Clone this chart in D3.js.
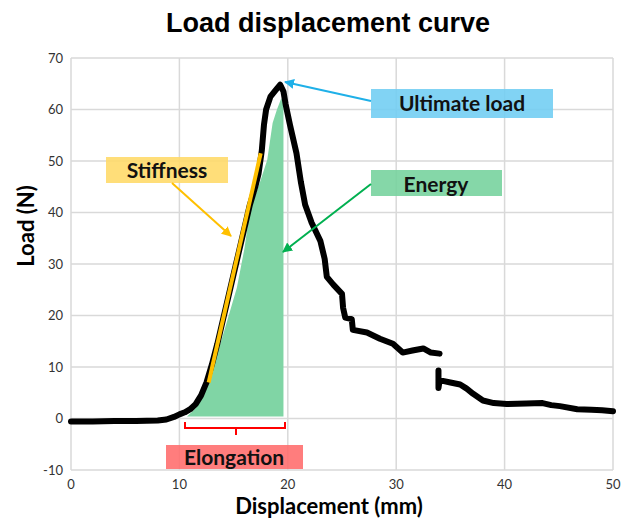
<!DOCTYPE html>
<html>
<head>
<meta charset="utf-8">
<script src="https://cdn.jsdelivr.net/npm/d3@7/dist/d3.min.js"></script>
<style>
  body { margin: 0; background: #fff; }
  svg text { font-family: Lato, "Open Sans", sans-serif; }
</style>
</head>
<body>
<div id="chart"></div>
<script>
// curve readings (displacement mm, load N); null marks the break near 34 mm
var dispX = [0, 2, 4, 6, 8, 8.8, 9.5, 10, 10.5, 11, 11.5, 12, 12.5, 13, 13.5, 14, 14.5, 15, 15.5, 16,
  16.5, 17, 17.3, 17.6, 17.8, 18, 18.4, 18.9, 19.3, 19.6, 19.8, 20.2, 20.8, 21.2, 21.6, 22.2, 23, 23.4,
  23.6, 24.2, 25, 25.1, 25.3, 25.9, 26, 27.3, 28.5, 29.7, 30.6, 31.5, 32.5, 33.2, 34, 34,
  33.9, 33.9, 34.0, 34.3, 35.0, 35.9, 36.5, 37.1, 38, 39, 40.2, 42, 43.5, 44.3, 45.1, 46.7, 48, 49, 50];
var loadN = [-0.6, -0.6, -0.5, -0.5, -0.4, -0.2, 0.3, 0.8, 1.2, 1.8, 2.8, 4.5, 7, 10.5, 14.5, 19, 23.5, 28, 32.5, 37,
  41.5, 45, 47.5, 52, 57, 60, 62.5, 63.8, 64.8, 63.5, 61, 57, 51.5, 46, 41.5, 38, 34.5, 31,
  27.5, 26, 24.2, 21.5, 19.6, 19.3, 17.2, 16.7, 15.5, 14.5, 12.8, 13.2, 13.6, 12.8, 12.6, null,
  9.3, 5.9, 7.3, 7.3, 7.0, 6.6, 5.8, 4.8, 3.5, 3.0, 2.8, 2.9, 3.0, 2.6, 2.4, 1.8, 1.7, 1.6, 1.4];

// shaded energy region
var energyX = [10.7, 11.5, 12.3, 13.1, 14.2, 15.3, 16.0, 16.5, 17.4, 18.1, 18.6, 19.0, 19.4, 19.6];
var energyTop = [0.4, 2, 5, 9.8, 17.5, 25.4, 33, 40.4, 45.7, 50.2, 57.4, 60, 62.2, 61];
var energyBase = 0.4;

// stiffness tangent
var stiffX = [12.7, 17.5];
var stiffY = [7.0, 51.5];

var xTicks = [0, 10, 20, 30, 40, 50];
var yTicks = [-10, 0, 10, 20, 30, 40, 50, 60, 70];
var labels = ["Ultimate load", "Energy", "Stiffness", "Elongation"];

var width = 622, height = 518;
var margin = {top: 58, right: 9, bottom: 48, left: 71};

var svg = d3.select("#chart").append("svg")
  .attr("width", width)
  .attr("height", height);

var x = d3.scaleLinear().domain([0, 50]).range([margin.left, width - margin.right]);
var y = d3.scaleLinear().domain([-10, 70]).range([height - margin.bottom, margin.top]);

// Gridlines
svg.append("g")
  .selectAll("line.gx")
  .data(xTicks).enter().append("line")
  .attr("x1", d => x(d)).attr("x2", d => x(d))
  .attr("y1", y(70)).attr("y2", y(-10))
  .attr("stroke", "#d9d9d9").attr("stroke-width", 1.5);
svg.append("g")
  .selectAll("line.gy")
  .data(yTicks).enter().append("line")
  .attr("x1", x(0)).attr("x2", x(50))
  .attr("y1", d => y(d)).attr("y2", d => y(d))
  .attr("stroke", "#d9d9d9").attr("stroke-width", 1.5);

// Tick labels
svg.append("g")
  .selectAll("text")
  .data(xTicks).enter().append("text")
  .attr("x", d => x(d)).attr("y", y(-10) + 19)
  .attr("text-anchor", "middle")
  .attr("font-size", 13).attr("fill", "#333")
  .text(d => d);
svg.append("g")
  .selectAll("text")
  .data(yTicks).enter().append("text")
  .attr("x", x(0) - 8).attr("y", d => y(d) + 4.5)
  .attr("text-anchor", "end")
  .attr("font-size", 13).attr("fill", "#333")
  .text(d => d);

// Energy area
var pts = energyX.map((d, i) => [d, energyTop[i]]);
var area = d3.area()
  .x(d => x(d[0]))
  .y0(y(energyBase))
  .y1(d => y(d[1]));
svg.append("path")
  .datum(pts)
  .attr("d", area)
  .attr("fill", "#80d5a5");

// Load curve
var curvePts = dispX.map((d, i) => [d, loadN[i]]);
var line = d3.line()
  .defined(d => d[1] !== null)
  .x(d => x(d[0]))
  .y(d => y(d[1]));
svg.append("path")
  .datum(curvePts)
  .attr("d", line)
  .attr("fill", "none")
  .attr("stroke", "#000")
  .attr("stroke-width", 6)
  .attr("stroke-linejoin", "round")
  .attr("stroke-linecap", "round");

// Stiffness line
svg.append("line")
  .attr("x1", x(stiffX[0])).attr("y1", y(stiffY[0]))
  .attr("x2", x(stiffX[1])).attr("y2", y(stiffY[1]))
  .attr("stroke", "#ffc000").attr("stroke-width", 4);

// Arrow markers
var defs = svg.append("defs");
function marker(id, color) {
  defs.append("marker")
    .attr("id", id)
    .attr("viewBox", "0 0 10 10")
    .attr("refX", 9).attr("refY", 5)
    .attr("markerWidth", 5).attr("markerHeight", 5)
    .attr("markerUnits", "strokeWidth")
    .attr("orient", "auto")
    .append("path")
    .attr("d", "M0,0 L10,5 L0,10 Z")
    .attr("fill", color);
}
marker("ablue", "#1fb0e8");
marker("agreen", "#00b050");
marker("agold", "#ffc000");

// Annotation boxes
var boxes = [
  {t: labels[0], x: 371, y: 89, w: 182, h: 29, fill: "#6fcdf3"},
  {t: labels[1], x: 371, y: 170, w: 131, h: 26, fill: "#74d29c"},
  {t: labels[2], x: 106, y: 157, w: 122, h: 26, fill: "#ffd966"},
  {t: labels[3], x: 166, y: 445, w: 137, h: 24, fill: "#ff6b6b"}
];
boxes.forEach(function (b) {
  svg.append("rect")
    .attr("x", b.x).attr("y", b.y).attr("width", b.w).attr("height", b.h)
    .attr("fill", b.fill).attr("opacity", 0.88);
});

// Arrows
svg.append("line")
  .attr("x1", 371).attr("y1", 101).attr("x2", 285).attr("y2", 82)
  .attr("stroke", "#1fb0e8").attr("stroke-width", 2).attr("marker-end", "url(#ablue)");
svg.append("line")
  .attr("x1", 371).attr("y1", 184).attr("x2", 283).attr("y2", 252)
  .attr("stroke", "#00b050").attr("stroke-width", 2).attr("marker-end", "url(#agreen)");
svg.append("line")
  .attr("x1", 172).attr("y1", 183).attr("x2", 231).attr("y2", 236)
  .attr("stroke", "#ffc000").attr("stroke-width", 2).attr("marker-end", "url(#agold)");

// Elongation bracket
svg.append("path")
  .attr("d", "M185,422 V428 H285 V422 M236,428 V435")
  .attr("fill", "none").attr("stroke", "#ff0000").attr("stroke-width", 2);

// Box texts
var textPos = [[462, 111], [436, 192], [167, 178], [234, 465]];
boxes.forEach(function (b, i) {
  svg.append("text")
    .attr("x", textPos[i][0]).attr("y", textPos[i][1])
    .attr("text-anchor", "middle")
    .attr("font-size", 21).attr("font-weight", "bold").attr("fill", "#111")
    .text(b.t);
});

// Titles
svg.append("text")
  .attr("x", 328).attr("y", 32)
  .attr("text-anchor", "middle")
  .style("font-family", "'Liberation Sans', Arial, sans-serif")
  .attr("font-size", 27).attr("font-weight", "bold")
  .text("Load displacement curve");
svg.append("text")
  .attr("x", 329).attr("y", 514)
  .attr("text-anchor", "middle")
  .attr("font-size", 22).attr("font-weight", "bold")
  .text("Displacement (mm)");
svg.append("text")
  .attr("transform", "translate(34,226) rotate(-90)")
  .attr("text-anchor", "middle")
  .attr("font-size", 22).attr("font-weight", "bold")
  .text("Load (N)");
</script>
</body>
</html>
